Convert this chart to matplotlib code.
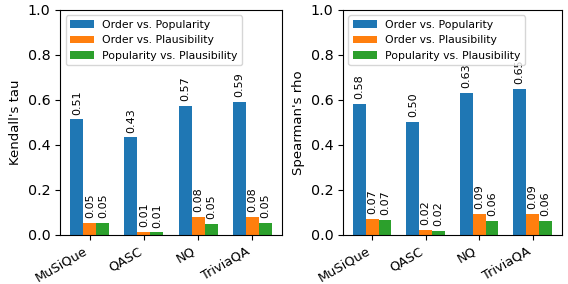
import matplotlib
matplotlib.use("Agg")
import matplotlib.pyplot as plt
import numpy as np

datasets = ["MuSiQue", "QASC", "NQ", "TriviaQA"]
series = ["Order vs. Popularity", "Order vs. Plausibility", "Popularity vs. Plausibility"]
kendall_order_pop = [0.514, 0.434, 0.573, 0.591]
kendall_order_pla = [0.053, 0.014, 0.080, 0.080]
kendall_pop_pla = [0.053, 0.012, 0.049, 0.053]
spearman_order_pop = [0.582, 0.504, 0.631, 0.649]
spearman_order_pla = [0.071, 0.022, 0.094, 0.093]
spearman_pop_pla = [0.067, 0.018, 0.062, 0.062]
colors = ["#1f77b4", "#ff7f0e", "#2ca02c"]

fig = plt.figure(figsize=(5.68, 2.84), dpi=100)
ax1 = fig.add_axes([0.106, 0.173, 0.390, 0.792])
ax2 = fig.add_axes([0.604, 0.173, 0.385, 0.792])

def draw(ax, vals, ylabel):
    x = np.arange(len(datasets))
    w = 0.24
    for i, (v, name) in enumerate(zip(vals, series)):
        bars = ax.bar(x + (i - 1) * w, v, w, color=colors[i], label=name)
        for b, val in zip(bars, v):
            ax.text(b.get_x() + b.get_width() / 2, b.get_height() + 0.02,
                    f"{val:.2f}", rotation=90, ha="center", va="bottom", fontsize=8)
    ax.set_ylim(0, 1.0)
    ax.set_xticks(x)
    ax.set_xticklabels(datasets, rotation=30, ha="right", fontsize=9.3)
    ax.tick_params(axis="y", labelsize=10.3)
    ax.set_ylabel(ylabel, fontsize=9.5)
    ax.legend(loc="upper left", fontsize=7.8, handlelength=2.2)

draw(ax1, [kendall_order_pop, kendall_order_pla, kendall_pop_pla], "Kendall's tau")
draw(ax2, [spearman_order_pop, spearman_order_pla, spearman_pop_pla], "Spearman's rho")

fig.savefig("out.png", dpi=100)
